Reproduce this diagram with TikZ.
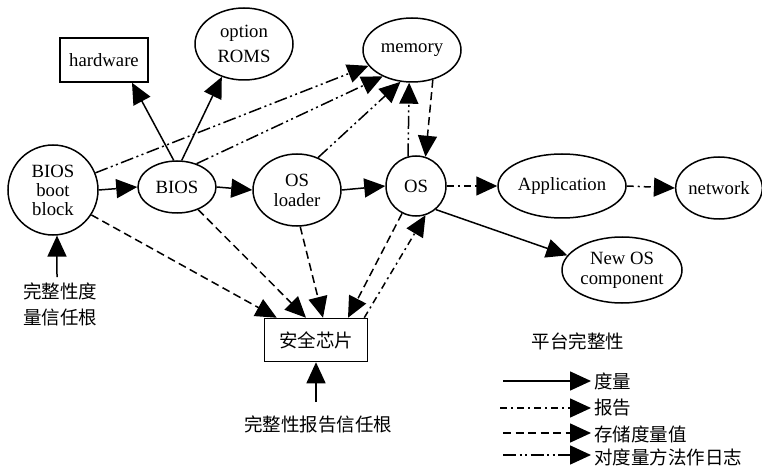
\documentclass[tikz,border=0pt]{standalone}
\usepackage{fontspec}
\setmainfont{Liberation Serif}
\newfontfamily\cjk{Noto Sans CJK SC}
\usetikzlibrary{arrows.meta,shapes.geometric,calc}
\begin{document}
\begin{tikzpicture}[x=1pt,y=-1pt,
  every node/.style={inner sep=0pt, font=\fontsize{18.7}{20}\selectfont},
  ell/.style={draw, ellipse, line width=1.5pt, align=center},
  circ/.style={draw, circle, line width=1.5pt, align=center},
  box/.style={draw, rectangle, line width=1.5pt, align=center},
  conn/.style={line width=1.5pt, -{Triangle[length=21pt,width=19pt]}},
  meas/.style={conn},
  report/.style={conn, dash pattern=on 7pt off 4pt on 2pt off 4pt},
  store/.style={conn, dash pattern=on 8pt off 4.5pt},
  logm/.style={conn, dash pattern=on 13pt off 3.5pt on 2pt off 3.5pt on 2pt off 3.5pt},
  cjkt/.style={font=\cjk\fontsize{18.5}{26}\selectfont}
]
\useasboundingbox (0,0) rectangle (762,470);

% nodes
\node[box, minimum width=88pt, minimum height=44pt] (hw) at (104,60) {hardware};
\node[ell, minimum width=98pt, minimum height=72pt, font=\fontsize{18.7}{25}\selectfont] (rom) at (244,44) {option\\ROMS};
\node[ell, minimum width=98pt, minimum height=64pt] (mem) at (412,50) {memory};
\node[circ, minimum size=90pt, font=\fontsize{18.7}{19}\selectfont] (bb) at (53,190) {BIOS\\boot\\block};
\node[ell, minimum width=78pt, minimum height=52pt] (bios) at (177,187) {BIOS};
\node[ell, minimum width=88pt, minimum height=72pt] (osl) at (297,190) {OS\\loader};
\node[circ, minimum size=60pt] (os) at (416,186) {OS};
\node[ell, minimum width=128pt, minimum height=64pt] (app) at (562,186) {Application};
\node[ell, minimum width=84pt, minimum height=62pt] (net) at (719,188) {network};
\node[ell, minimum width=120pt, minimum height=66pt] (newos) at (622,270) {New OS\\component};
\node[box, cjkt, minimum width=103pt, minimum height=43pt] (chip) at (316,340) {安全芯片};
\node[cjkt, anchor=north, align=left] (root) at (60,283) {完整性度\\量信任根};
\node[cjkt] (rep) at (318,424) {完整性报告信任根};
\node[cjkt] (title) at (578,341) {平台完整性};

\coordinate (roota) at (57,277);
\coordinate (repa) at (316,402);

% measurement
\draw[meas] (bb.east) -- (bios.west);
\draw[meas] (bios.east) -- (osl.west);
\draw[meas] (osl.east) -- (os.west);
\draw[meas] (os.-50) -- (newos.165);
\draw[meas] (bios.97) -- ($(hw.south)+(28,0)$);
\draw[meas] (bios.80) -- (rom.236);
\draw[meas] (roota) -- (bb.-85);
\draw[meas] (repa) -- (chip.south);

% logging
\draw[logm] (bb.22) -- (mem.200);
\draw[logm] (bios.50) -- (mem.222);
\draw[logm] (osl.57) -- (mem.250);
\draw[logm] (os.105) -- (mem.265);

% storing
\draw[store] (mem.-55) -- (os.72);
\draw[store] (bb.-33) -- ($(chip.north west)+(13,0)$);
\draw[store] (bios.-47) -- ($(chip.north)+(-10,0)$);
\draw[store] (osl.-85) -- ($(chip.north)+(7,0)$);
\draw[store] (os.-117) -- ($(chip.north)+(32,0)$);

% reporting
\draw[report] (os.east) -- (app.west);
\draw[report] (app.east) -- (net.west);
\draw[report] ($(chip.north east)+(-4,0)$) -- (os.-72);

% legend
\coordinate (l1s) at (503,381);
\coordinate (l2s) at (500,408);
\coordinate (l3s) at (503,433);
\coordinate (l4s) at (503,455);
\node[cjkt, anchor=west] (l1) at (594,381) {度量};
\node[cjkt, anchor=west] (l2) at (594,408) {报告};
\node[cjkt, anchor=west] (l3) at (594,434) {存储度量值};
\node[cjkt, anchor=west] (l4) at (594,457) {对度量方法作日志};
\draw[meas] (l1s) -- ($(l1s -| l1.west)+(-3,0)$);
\draw[report] (l2s) -- ($(l2s -| l2.west)+(-3,0)$);
\draw[store] (l3s) -- ($(l3s -| l3.west)+(-3,0)$);
\draw[logm] (l4s) -- ($(l4s -| l4.west)+(-3,0)$);
\end{tikzpicture}
\end{document}
